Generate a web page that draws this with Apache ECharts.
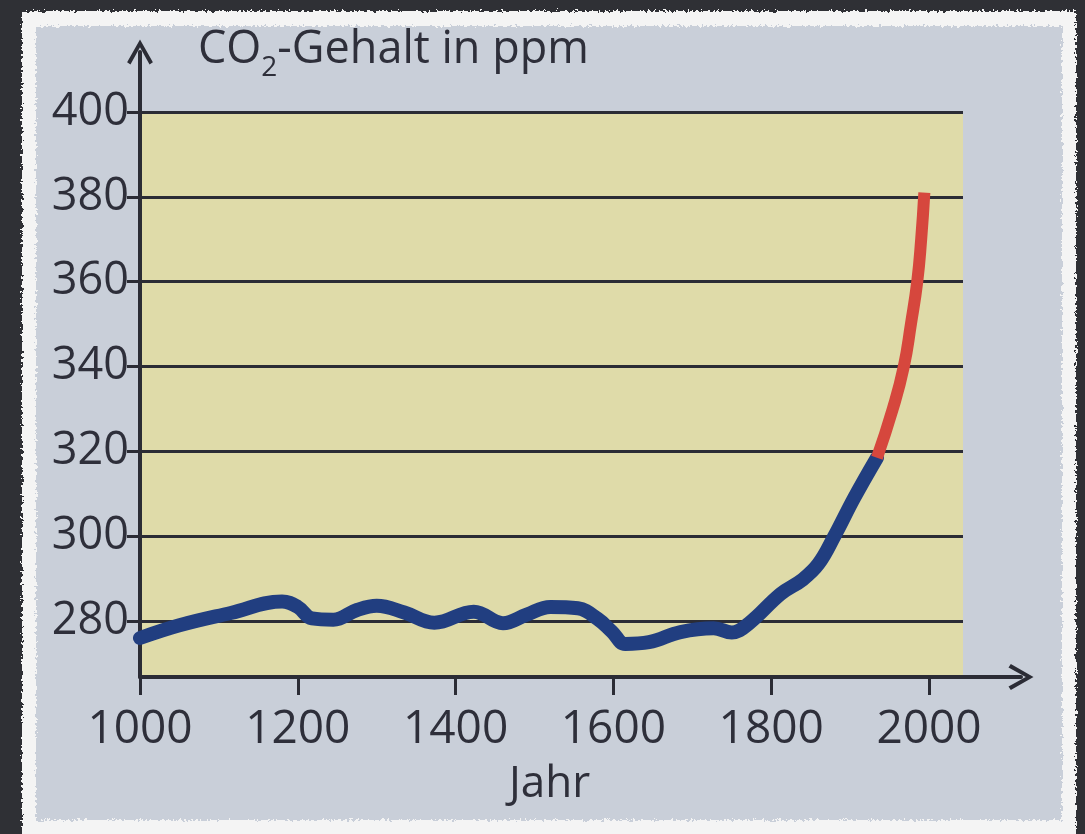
<!DOCTYPE html>
<html>
<head>
<meta charset="utf-8">
<script src="https://cdn.jsdelivr.net/npm/echarts@6/dist/echarts.min.js"></script>
<style>
  html, body { margin: 0; padding: 0; width: 1085px; height: 834px; overflow: hidden; background: #2f3035; }
  #frame { position: absolute; left: 22px; top: 11px; width: 1054px; height: 840px; background: #f4f4f4; filter: url(#rough); }
  #panel { position: absolute; left: 36px; top: 26px; width: 1026px; height: 794px; background: #c9cfd9; filter: url(#rough); }
  #chart { position: absolute; left: 0; top: 0; width: 1085px; height: 834px; }
</style>
</head>
<body>
<svg width="0" height="0" style="position:absolute">
  <filter id="rough" x="-2%" y="-2%" width="104%" height="104%">
    <feTurbulence type="fractalNoise" baseFrequency="0.35" numOctaves="2" seed="3" result="n"/>
    <feDisplacementMap in="SourceGraphic" in2="n" scale="7" xChannelSelector="R" yChannelSelector="G"/>
  </filter>
</svg>
<div id="frame"></div>
<div id="panel"></div>
<div id="chart"></div>
<script>
// ---- data ----
const yearTicks = [1000, 1200, 1400, 1600, 1800, 2000];
const ppmTicks = [280, 300, 320, 340, 360, 380, 400];

// historic part (blue)
const blueYears = [1000, 1050, 1115, 1180, 1200, 1218, 1245, 1275, 1300, 1335, 1373, 1423, 1460, 1490, 1520, 1555, 1580, 1598, 1615, 1645, 1685, 1727, 1750, 1772, 1812, 1840, 1860, 1880, 1905, 1934];
const blueValues = [276.0, 279.0, 281.9, 284.6, 283.3, 280.6, 280.3, 282.6, 283.6, 282.0, 279.6, 282.2, 279.5, 281.5, 283.3, 283.0, 280.5, 277.5, 274.6, 275.0, 277.4, 278.3, 277.3, 279.5, 286.4, 289.8, 293.5, 300.0, 309.0, 318.5];

// recent part (red)
const redYears = [1934, 1954, 1968, 1977, 1985, 1990, 1994];
const redValues = [318.5, 330.0, 340.0, 350.0, 360.0, 370.0, 381.0];

const pairs = (xs, ys) => xs.map((x, i) => [x, ys[i]]);

const ink = '#2b2c35';
const textColor = '#2e2f3a';
const fontFamily = '"Open Sans", "Liberation Sans", sans-serif';
const chevron = 'path://M0,88 L50,0 L100,88 L87,97 L50,30 L13,97 Z';

const chart = echarts.init(document.getElementById('chart'), null, { renderer: 'canvas' });

chart.setOption({
  animation: false,
  backgroundColor: 'transparent',
  textStyle: { fontFamily: fontFamily },
  title: [
    {
      text: 'CO{sub|2}-Gehalt in ppm',
      left: 198, top: 18, padding: 0,
      textStyle: {
        fontFamily: fontFamily, fontSize: 45, fontWeight: 'normal', color: textColor,
        lineHeight: 64, verticalAlign: 'middle',
        rich: {
          sub: { fontFamily: fontFamily, fontSize: 28, color: textColor, lineHeight: 28, verticalAlign: 'bottom' }
        }
      }
    },
    {
      text: 'Jahr',
      left: 509, top: 762, padding: 0,
      textStyle: { fontFamily: fontFamily, fontSize: 44, fontWeight: 'normal', color: textColor }
    }
  ],
  grid: [
    { left: 140, top: 112, width: 823, height: 565, show: true, backgroundColor: '#dfdba9', borderWidth: 0 },
    { left: 140, top: 52, width: 881, height: 625, show: false }
  ],
  xAxis: [
    { type: 'value', gridIndex: 0, min: 1000, max: 2043, show: false, splitLine: { show: false } },
    {
      type: 'value', gridIndex: 1, min: 1000, max: 2116.6, position: 'bottom',
      axisLine: { show: true, lineStyle: { color: ink, width: 4 }, symbol: ['none', chevron], symbolSize: [30, 25] },
      axisTick: { show: true, customValues: yearTicks, length: 18, lineStyle: { color: ink, width: 3 } },
      axisLabel: { show: true, customValues: yearTicks, fontSize: 46, color: textColor, margin: 30, fontFamily: fontFamily,
                   formatter: v => String(v) },
      splitLine: { show: false }
    }
  ],
  yAxis: [
    {
      type: 'value', gridIndex: 0, min: 266.8, max: 400,
      axisLine: { show: false },
      axisTick: { show: true, customValues: ppmTicks, length: 13, lineStyle: { color: ink, width: 3 } },
      axisLabel: { show: true, customValues: ppmTicks, fontSize: 45, color: textColor, margin: 11, fontFamily: fontFamily,
                   formatter: v => String(v) },
      splitLine: { show: true, lineStyle: { color: ink, width: 3 } }
    },
    {
      type: 'value', gridIndex: 1, min: 266.8, max: 414.1,
      axisLine: { show: true, lineStyle: { color: ink, width: 4 }, symbol: ['none', chevron], symbolSize: [30, 25] },
      axisTick: { show: false },
      axisLabel: { show: false },
      splitLine: { show: false }
    }
  ],
  series: [
    {
      type: 'line', xAxisIndex: 0, yAxisIndex: 0,
      data: pairs(blueYears, blueValues),
      smooth: 0.4, symbol: 'none',
      lineStyle: { color: '#213e80', width: 14, cap: 'round', join: 'round' },
      z: 3
    },
    {
      type: 'line', xAxisIndex: 0, yAxisIndex: 0,
      data: pairs(redYears, redValues),
      smooth: 0.5, symbol: 'none',
      lineStyle: { color: '#d6473d', width: 12, cap: 'butt', join: 'round' },
      z: 4
    }
  ]
});
</script>
</body>
</html>
